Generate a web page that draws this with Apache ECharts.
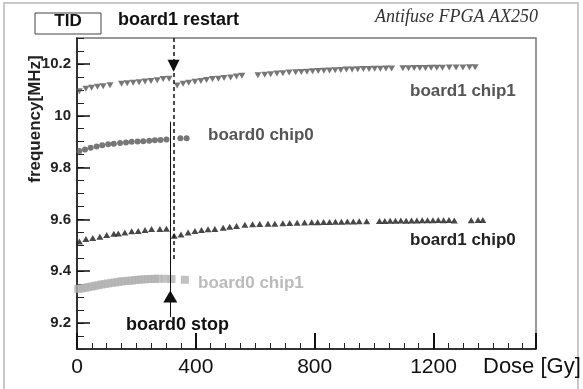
<!DOCTYPE html>
<html>
<head>
<meta charset="utf-8">
<script src="https://cdn.jsdelivr.net/npm/echarts@6/dist/echarts.min.js"></script>
<style>html,body{margin:0;padding:0;background:#fff}#c{width:583px;height:389px}</style>
</head>
<body>
<div id="c"></div>
<script>
// ---- data ----
const xTicks = [0, 400, 800, 1200];
const yTicks = [9.2, 9.4, 9.6, 9.8, 10, 10.2];

// board1 chip1 (inverted triangles)
const b1c1Dose = [8, 30, 49, 69, 88, 111, 150, 169, 189, 209, 229, 249, 270, 290, 310,
  337, 357, 376, 397, 417, 436, 456, 476, 495, 517, 537, 555, 609, 632, 652, 673, 693, 714, 736, 755, 774,
  793, 812, 831, 850, 869, 888, 907, 926, 945, 964, 983, 1002, 1021, 1040, 1059,
  1097, 1116, 1135, 1154, 1173, 1192, 1211, 1230, 1253, 1276, 1299, 1321, 1340];
const b1c1Freq = [10.095, 10.104, 10.108, 10.112, 10.114, 10.118, 10.123, 10.125, 10.127, 10.129, 10.132, 10.134, 10.137, 10.142, 10.143,
  10.117, 10.123, 10.127, 10.131, 10.134, 10.138, 10.142, 10.143, 10.146, 10.148, 10.151, 10.154, 10.156, 10.158, 10.160, 10.163, 10.164, 10.167, 10.168, 10.169, 10.170,
  10.172, 10.173, 10.174, 10.175, 10.176, 10.177, 10.178, 10.178, 10.179, 10.180, 10.180, 10.181, 10.181, 10.182, 10.182,
  10.183, 10.183, 10.184, 10.184, 10.184, 10.185, 10.185, 10.185, 10.186, 10.186, 10.186, 10.187, 10.187];

// board0 chip0 (circles)
const b0c0Dose = [8, 27, 46, 66, 85, 105, 124, 145, 165, 184, 204, 223, 243, 262, 281, 301, 348, 369];
const b0c0Freq = [9.864, 9.870, 9.877, 9.881, 9.886, 9.890, 9.892, 9.895, 9.897, 9.900, 9.901, 9.902, 9.904, 9.905, 9.906, 9.908, 9.913, 9.913];

// board1 chip0 (triangles)
const b1c0Dose = [8, 30, 53, 77, 100, 124, 139, 161, 184, 206, 229, 251, 279, 301,
  327, 350, 374, 397, 419, 441, 464, 492, 514, 537, 565, 591, 615, 643, 666, 693, 716, 741, 766,
  790, 810, 830, 850, 870, 890, 910, 930, 950, 975,
  1018, 1036, 1054, 1072, 1090, 1108, 1126, 1144, 1162, 1180, 1198, 1216, 1234, 1252, 1270, 1327, 1350, 1366];
const b1c0Freq = [9.515, 9.524, 9.528, 9.533, 9.540, 9.545, 9.546, 9.550, 9.554, 9.555, 9.559, 9.563, 9.563, 9.564,
  9.537, 9.542, 9.550, 9.555, 9.559, 9.562, 9.563, 9.568, 9.572, 9.575, 9.579, 9.581, 9.582, 9.583, 9.583, 9.585, 9.586, 9.587, 9.588,
  9.589, 9.589, 9.590, 9.590, 9.591, 9.591, 9.592, 9.592, 9.593, 9.593,
  9.594, 9.594, 9.595, 9.595, 9.596, 9.595, 9.596, 9.596, 9.597, 9.597, 9.597, 9.598, 9.597, 9.598, 9.596, 9.597, 9.598, 9.598];

// board0 chip1 (squares)
const b0c1Dose = [4, 16, 27, 38, 49, 60, 72, 83, 94, 105, 117, 128, 139, 150, 161, 173, 184, 195, 206, 217, 229, 240, 251, 262, 273, 296, 318, 363];
const b0c1Freq = [9.332, 9.334, 9.336, 9.339, 9.341, 9.344, 9.346, 9.349, 9.351, 9.353, 9.355, 9.357, 9.359, 9.361, 9.362, 9.363, 9.364, 9.366, 9.367, 9.368, 9.369, 9.370, 9.370, 9.371, 9.371, 9.371, 9.370, 9.367];

// event markers
const restartDose = 325;
const stopDose = 314;

const pair = (xs, ys) => xs.map((x, i) => [x, ys[i]]);

const yMin = 9.1, yMax = 10.3, xMin = 0, xMax = 1545;
const majorTickColor = '#111';

const chart = echarts.init(document.getElementById('c'));
const sans = 'Liberation Sans, Arial, sans-serif';
const txt = (text, x, y, size, color, extra) => ({
  type: 'text', z: 100, silent: true,
  style: Object.assign({text, x, y, fill: color, font: 'bold ' + size + 'px ' + sans, textAlign: 'left', textVerticalAlign: 'middle'}, extra || {})
});
const inList = (list, v) => list.some(t => Math.abs(t - v) < 1e-6);

chart.setOption({
  animation: false,
  backgroundColor: '#fff',
  grid: [{left: 77, top: 38, right: 47, bottom: 40, show: true, borderColor: '#777', borderWidth: 1.5}],
  xAxis: [
    {type: 'value', min: xMin, max: xMax, interval: 50, position: 'bottom',
     axisLine: {show: false},
     axisTick: {show: true, inside: true, length: 6, lineStyle: {color: '#222', width: 1}},
     axisLabel: {show: false}, splitLine: {show: false}},
    {type: 'value', min: xMin, max: xMax, interval: 400, position: 'bottom',
     axisLine: {show: true, lineStyle: {color: '#111', width: 1.5}},
     axisTick: {show: true, inside: true, length: 16, lineStyle: {color: majorTickColor, width: 2}},
     axisLabel: {show: true, margin: 8, fontSize: 21, color: '#111', fontFamily: sans,
                 formatter: v => inList(xTicks, v) ? String(v) : ''},
     splitLine: {show: false}}
  ],
  yAxis: [
    {type: 'value', min: yMin, max: yMax, interval: 0.05, position: 'left',
     axisLine: {show: false},
     axisTick: {show: true, inside: true, length: 7, lineStyle: {color: '#222', width: 1}},
     axisLabel: {show: false}, splitLine: {show: false}},
    {type: 'value', min: yMin, max: yMax, position: 'left',
     axisLine: {show: true, lineStyle: {color: '#111', width: 1.5}},
     axisTick: {show: true, inside: true, length: 13, customValues: yTicks, lineStyle: {color: majorTickColor, width: 1.5}},
     axisLabel: {show: true, customValues: yTicks, margin: 6, fontSize: 15, fontWeight: 'bold', color: '#222', fontFamily: sans,
                 formatter: v => String(v)},
     splitLine: {show: false}}
  ],
  series: [
    {name: 'board0 chip1', type: 'scatter', symbol: 'rect', symbolSize: 8,
     itemStyle: {color: '#b3b3b3'}, data: pair(b0c1Dose, b0c1Freq)},
    {name: 'board0 chip0', type: 'scatter', symbol: 'circle', symbolSize: 6,
     itemStyle: {color: '#555'}, data: pair(b0c0Dose, b0c0Freq)},
    {name: 'board1 chip1', type: 'scatter', symbol: 'triangle', symbolRotate: 180, symbolSize: [7, 6],
     itemStyle: {color: '#555'}, data: pair(b1c1Dose, b1c1Freq)},
    {name: 'board1 chip0', type: 'scatter', symbol: 'triangle', symbolSize: [7, 6],
     itemStyle: {color: '#1a1a1a'}, data: pair(b1c0Dose, b1c0Freq),
     markLine: {silent: true, symbol: ['none', 'none'], label: {show: false}, animation: false,
       data: [
         [{coord: [restartDose, 10.3], lineStyle: {type: [4, 3], color: '#111', width: 1.5}}, {coord: [restartDose, 9.44]}],
         [{coord: [stopDose, 9.977], lineStyle: {type: 'solid', color: '#111', width: 1}}, {coord: [stopDose, 9.223]}]
       ]},
     markPoint: {silent: true, label: {show: false}, animation: false,
       data: [
         {coord: [restartDose, 10.193], symbol: 'triangle', symbolRotate: 180, symbolSize: [12, 12], itemStyle: {color: '#111'}},
         {coord: [stopDose, 9.303], symbol: 'triangle', symbolSize: [14, 12], itemStyle: {color: '#111'}}
       ]}}
  ],
  graphic: [
    {type: 'rect', z: 1, silent: true, shape: {x: 4, y: 3, width: 574, height: 400}, style: {fill: 'none', stroke: '#c8c8c8', lineWidth: 2}},
    {type: 'rect', z: 99, silent: true, shape: {x: 35, y: 13, width: 66, height: 21}, style: {fill: '#fff', stroke: '#444', lineWidth: 1}},
    txt('TID', 68, 21.5, 17, '#111', {textAlign: 'center'}),
    txt('board1 restart', 118, 20.5, 18, '#111'),
    txt('Antifuse FPGA AX250', 538, 17, '', '#333', {font: 'italic 18px Liberation Serif, Times New Roman, serif', textAlign: 'right'}),
    txt('board1 chip1', 410, 91, 17, '#555'),
    txt('board0 chip0', 208, 135, 17, '#555'),
    txt('board1 chip0', 410, 240, 17, '#222'),
    txt('board0 chip1', 198, 283.5, 17, '#bbb'),
    txt('board0 stop', 126, 325.5, 18, '#111'),
    txt('Dose [Gy]', 483, 367, '', '#111', {font: '22px ' + sans}),
    {type: 'text', z: 100, silent: true, x: 35, y: 119, rotation: Math.PI / 2,
     style: {text: 'frequency[MHz]', x: 0, y: 0, fill: '#222', font: 'bold 17px ' + sans, textAlign: 'center', textVerticalAlign: 'middle'}}
  ]
});
</script>
</body>
</html>
